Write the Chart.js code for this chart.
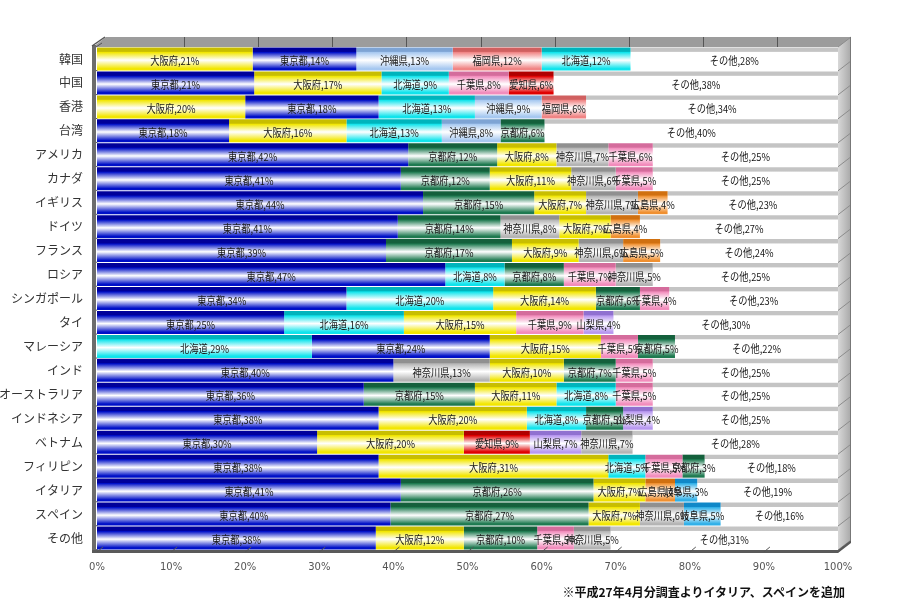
<!DOCTYPE html>
<html>
<head>
<meta charset="utf-8">
<script src="https://cdn.jsdelivr.net/npm/chart.js@4"></script>
<style>
  body { margin: 0; background: #ffffff; }
  #wrap { position: relative; width: 901px; height: 616px; }
  #note {
    position: absolute; right: 56px; top: 583px;
    font: bold 12px "Noto Sans CJK JP", sans-serif; color: #111;
  }
</style>
</head>
<body>
<div id="wrap">
  <canvas id="chart" width="901" height="616"></canvas>
  <div id="note">※平成27年4月分調査よりイタリア、スペインを追加</div>
</div>
<script>
// Countries (top to bottom)
const countries = ['韓国', '中国', '香港', '台湾', 'アメリカ', 'カナダ', 'イギリス', 'ドイツ', 'フランス', 'ロシア',
  'シンガポール', 'タイ', 'マレーシア', 'インド', 'オーストラリア', 'インドネシア', 'ベトナム', 'フィリピン',
  'イタリア', 'スペイン', 'その他'];

// 1st to 5th prefecture of each country, and their share (%)
const pref1 = ['大阪府', '東京都', '大阪府', '東京都', '東京都', '東京都', '東京都', '東京都', '東京都', '東京都',
  '東京都', '東京都', '北海道', '東京都', '東京都', '東京都', '東京都', '東京都', '東京都', '東京都', '東京都'];
const val1 = [21, 21, 20, 18, 42, 41, 44, 41, 39, 47, 34, 25, 29, 40, 36, 38, 30, 38, 41, 40, 38];

const pref2 = ['東京都', '大阪府', '東京都', '大阪府', '京都府', '京都府', '京都府', '京都府', '京都府', '北海道',
  '北海道', '北海道', '東京都', '神奈川県', '京都府', '大阪府', '大阪府', '大阪府', '京都府', '京都府', '大阪府'];
const val2 = [14, 17, 18, 16, 12, 12, 15, 14, 17, 8, 20, 16, 24, 13, 15, 20, 20, 31, 26, 27, 12];

const pref3 = ['沖縄県', '北海道', '北海道', '北海道', '大阪府', '大阪府', '大阪府', '神奈川県', '大阪府', '京都府',
  '大阪府', '大阪府', '大阪府', '大阪府', '大阪府', '北海道', '愛知県', '北海道', '大阪府', '大阪府', '京都府'];
const val3 = [13, 9, 13, 13, 8, 11, 7, 8, 9, 8, 14, 15, 15, 10, 11, 8, 9, 5, 7, 7, 10];

const pref4 = ['福岡県', '千葉県', '沖縄県', '沖縄県', '神奈川県', '神奈川県', '神奈川県', '大阪府', '神奈川県', '千葉県',
  '京都府', '千葉県', '千葉県', '京都府', '北海道', '京都府', '山梨県', '千葉県', '広島県', '神奈川県', '千葉県'];
const val4 = [12, 8, 9, 8, 7, 6, 7, 7, 6, 7, 6, 9, 5, 7, 8, 5, 7, 5, 4, 6, 5];

const pref5 = ['北海道', '愛知県', '福岡県', '京都府', '千葉県', '千葉県', '広島県', '広島県', '広島県', '神奈川県',
  '千葉県', '山梨県', '京都府', '千葉県', '千葉県', '山梨県', '神奈川県', '京都府', '岐阜県', '岐阜県', '神奈川県'];
const val5 = [12, 6, 6, 6, 6, 5, 4, 4, 5, 5, 4, 4, 5, 5, 5, 4, 7, 3, 3, 5, 5];

// remainder
const otherVal = [28, 38, 34, 40, 25, 25, 23, 27, 24, 25, 23, 30, 22, 25, 25, 25, 28, 18, 19, 16, 31];
const otherName = 'その他';

// base / top-face colour of each prefecture
const colors = {
  '東京都':   ['#0010c8', '#00009a'],
  '大阪府':   ['#f2e600', '#c8be00'],
  '北海道':   ['#10e4ec', '#00b4bc'],
  '沖縄県':   ['#a6c8f0', '#7ea4d4'],
  '福岡県':   ['#f08484', '#d06060'],
  '千葉県':   ['#f28cbc', '#d46c9c'],
  '愛知県':   ['#e00000', '#b00000'],
  '京都府':   ['#1e7a50', '#14603c'],
  '神奈川県': ['#b4b4b4', '#909090'],
  '広島県':   ['#f09030', '#d07010'],
  '山梨県':   ['#b898f0', '#9070d0'],
  '岐阜県':   ['#30b0e8', '#1088c8'],
  'その他':   ['#ffffff', '#c4c4c4']
};

const prefs = [pref1, pref2, pref3, pref4, pref5];
const vals = [val1, val2, val3, val4, val5];

// 100% stacked: share of each row total
const rowSum = countries.map((c, i) => vals.reduce((s, v) => s + v[i], 0) + otherVal[i]);

const BAR_PCT = 0.96;

function barFill(names) {
  return function (ctx) {
    const chart = ctx.chart;
    const area = chart.chartArea;
    const name = names[ctx.dataIndex];
    const col = colors[name];
    if (!area) return col[0];
    const y = chart.scales.y.getPixelForValue(ctx.dataIndex);
    const h = (area.bottom - area.top) / countries.length * BAR_PCT;
    const g = chart.ctx.createLinearGradient(0, y - h / 2, 0, y + h / 2);
    g.addColorStop(0, col[1]);
    g.addColorStop(0.17, col[1]);
    g.addColorStop(0.21, col[0]);
    g.addColorStop(0.55, '#ffffff');
    g.addColorStop(0.92, col[0]);
    g.addColorStop(1, col[0]);
    return g;
  };
}

const otherNames = countries.map(() => otherName);
const datasets = prefs.map((p, k) => ({
  label: 'pos' + (k + 1),
  names: p,
  raw: vals[k],
  data: vals[k].map((v, i) => v / rowSum[i] * 100),
  backgroundColor: barFill(p)
}));
datasets.push({
  label: otherName,
  names: otherNames,
  raw: otherVal,
  data: otherVal.map((v, i) => v / rowSum[i] * 100),
  backgroundColor: barFill(otherNames)
});

// 3D frame: back wall strip, side walls, floor edge
const frame3d = {
  id: 'frame3d',
  beforeDatasetsDraw(chart) {
    const c = chart.ctx;
    const a = chart.chartArea;
    const dx = 13, dy = 10;
    const xs = chart.scales.x;
    c.save();
    // back wall (top strip)
    c.fillStyle = '#9c9c9c';
    c.beginPath();
    c.moveTo(a.left - 4, a.top);
    c.lineTo(a.left - 4 + dx, a.top - dy);
    c.lineTo(a.right + dx, a.top - dy);
    c.lineTo(a.right + dx, a.top);
    c.closePath();
    c.fill();
    c.strokeStyle = '#555';
    c.lineWidth = 1;
    for (let v = 10; v < 100; v += 10) {
      const x = Math.round(xs.getPixelForValue(v) + dx) + 0.5;
      c.beginPath();
      c.moveTo(x, a.top - dy);
      c.lineTo(x, a.top);
      c.stroke();
    }
    // right wall
    const g = c.createLinearGradient(a.right, 0, a.right + dx, 0);
    g.addColorStop(0, '#d8d8d8');
    g.addColorStop(1, '#a8a8a8');
    c.fillStyle = g;
    c.beginPath();
    c.moveTo(a.right, a.top);
    c.lineTo(a.right + dx, a.top - dy);
    c.lineTo(a.right + dx, a.bottom - dy);
    c.lineTo(a.right, a.bottom);
    c.closePath();
    c.fill();
    c.strokeStyle = '#8c8c8c';
    const rowH = (a.bottom - a.top) / countries.length;
    for (let i = 0; i <= countries.length; i++) {
      const y = a.top + i * rowH;
      c.beginPath();
      c.moveTo(a.right, y);
      c.lineTo(a.right + dx, y - dy);
      c.stroke();
    }
    c.strokeStyle = '#777';
    c.beginPath();
    c.moveTo(a.right + dx - 0.5, a.top - dy);
    c.lineTo(a.right + dx - 0.5, a.bottom - dy);
    c.stroke();
    // left wall edge
    c.fillStyle = '#6c6c6c';
    c.fillRect(a.left - 5, a.top - 2, 4, a.bottom - a.top + 5);
    c.strokeStyle = '#555';
    c.lineWidth = 1.5;
    c.beginPath();
    c.moveTo(a.left - 5, a.top - 1);
    c.lineTo(a.left - 5 + dx, a.top - dy);
    c.stroke();
    c.lineWidth = 1;
    for (let i = 0; i <= countries.length; i++) {
      const y = a.top + i * rowH;
      c.beginPath();
      c.moveTo(a.left - 1, y);
      c.lineTo(a.left + 5, y - 4);
      c.stroke();
    }
    // floor edge
    c.fillStyle = '#5a5a5a';
    c.beginPath();
    c.moveTo(a.left - 5, a.bottom);
    c.lineTo(a.right, a.bottom);
    c.lineTo(a.right + dx, a.bottom - dy);
    c.lineTo(a.right + dx, a.bottom - dy + 3);
    c.lineTo(a.right, a.bottom + 3);
    c.lineTo(a.left - 5, a.bottom + 3);
    c.closePath();
    c.fill();
    c.restore();
  },
  afterDatasetsDraw(chart) {
    const c = chart.ctx;
    const a = chart.chartArea;
    c.save();
    c.strokeStyle = '#555';
    for (let v = 0; v <= 100; v += 10) {
      const x = chart.scales.x.getPixelForValue(v);
      c.beginPath();
      c.moveTo(x, a.bottom + 2);
      c.lineTo(x + 6, a.bottom - 3);
      c.stroke();
    }
    c.restore();
  }
};

// segment labels "name,value%" (narrow, like the original bitmap font)
const segLabels = {
  id: 'segLabels',
  afterDatasetsDraw(chart) {
    const c = chart.ctx;
    const sx = 0.84;
    c.save();
    c.font = '11px "Noto Sans CJK JP", sans-serif';
    c.fillStyle = '#161616';
    c.textAlign = 'center';
    c.textBaseline = 'middle';
    chart.data.datasets.forEach((ds, k) => {
      const meta = chart.getDatasetMeta(k);
      meta.data.forEach((el, i) => {
        const cx = (el.x + el.base) / 2;
        c.save();
        c.translate(cx, el.y + 2);
        c.scale(sx, 1);
        c.fillText(ds.names[i] + ',' + ds.raw[i] + '%', 0, 0);
        c.restore();
      });
    });
    c.restore();
  }
};

new Chart(document.getElementById('chart'), {
  type: 'bar',
  data: { labels: countries, datasets: datasets },
  options: {
    indexAxis: 'y',
    responsive: false,
    animation: false,
    layout: { padding: { left: 0, right: 63, top: 47, bottom: 36 } },
    datasets: { bar: { barPercentage: BAR_PCT, categoryPercentage: 1, borderWidth: 0 } },
    plugins: { legend: { display: false }, tooltip: { enabled: false } },
    scales: {
      x: {
        stacked: true,
        min: 0,
        max: 100,
        grid: { display: false, drawTicks: false },
        border: { display: false },
        ticks: {
          stepSize: 10,
          padding: 11,
          color: '#555',
          font: { size: 10, family: 'DejaVu Sans' },
          callback: v => v + '%'
        },
        afterFit: s => { s.height = 30; }
      },
      y: {
        stacked: true,
        grid: { display: false, drawTicks: false },
        border: { display: false },
        ticks: {
          padding: 14,
          color: '#333',
          font: { size: 12, family: '"Noto Sans CJK JP"' }
        },
        afterFit: s => { s.width = 97; }
      }
    }
  },
  plugins: [frame3d, segLabels]
});
</script>
</body>
</html>
